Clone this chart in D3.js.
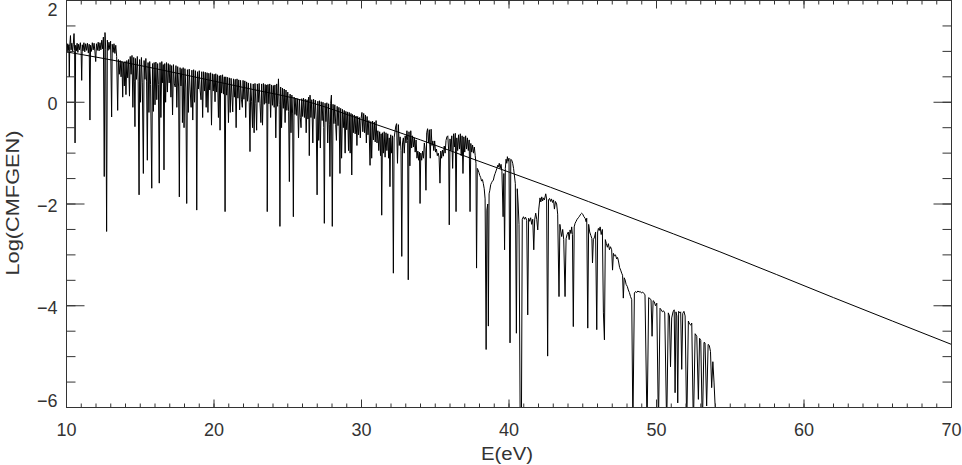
<!DOCTYPE html>
<html>
<head>
<meta charset="utf-8">
<script src="https://cdn.jsdelivr.net/npm/d3@7"></script>
<style>
  html, body { margin: 0; padding: 0; background: #fff; }
  svg { display: block; }
</style>
</head>
<body>
<div id="chart"></div>
<script>
// model continuum (smooth curve)
var modelE   = [10, 14, 18, 22, 26.5, 30, 34, 37.4, 42.8, 48, 54.3, 62, 70];
var modelLog = [0.99, 0.78, 0.54, 0.29, 0.0, -0.34, -0.74, -1.10, -1.67, -2.24, -2.94, -3.84, -4.76];

// CMFGEN spectrum, [E (eV), log flux], by energy range
var specA = [[10.00,1.12],[10.04,0.98],[10.08,1.15],[10.12,1.02],[10.16,1.13],[10.19,0.50],[10.22,1.10],[10.27,1.31],[10.31,1.03],[10.36,1.16],[10.41,0.99],[10.46,1.14],[10.51,1.35],[10.55,1.02],[10.58,-0.80],[10.62,1.12],[10.67,1.01],[10.72,1.16],[10.77,0.98],[10.82,1.14],[10.88,1.03],[10.94,1.17],[10.99,1.00],[11.03,0.43],[11.07,1.13],[11.12,1.01],[11.18,1.17],[11.24,0.99],[11.30,1.15],[11.36,1.02],[11.42,1.16],[11.48,0.97],[11.54,1.14],[11.59,-0.35],[11.63,1.12],[11.69,1.00],[11.75,1.17],[11.81,1.03],[11.87,1.16],[11.93,0.99],[11.98,0.80],[12.03,1.15],[12.09,1.02],[12.15,1.18],[12.21,1.01],[12.27,1.17],[12.33,1.03],[12.39,1.22],[12.45,1.05],[12.50,1.28],[12.56,-1.46],[12.61,1.37],[12.66,1.04],[12.72,-2.54],[12.77,1.22],[12.82,1.02],[12.88,1.18],[12.94,1.04],[12.99,1.20],[13.06,-0.29],[13.10,1.14],[13.16,0.98],[13.22,1.15],[13.28,0.96],[13.34,1.12],[13.40,0.90],[13.47,-0.16],[13.52,0.84]];

var specB = [[13.58,0.55],[13.64,0.82],[13.70,0.50],[13.76,0.80],[13.81,0.10],[13.86,0.78],[13.92,0.32],[13.97,0.80],[14.03,0.15],[14.09,0.82],[14.15,0.48],[14.21,0.84],[14.27,0.12],[14.32,0.90],[14.38,0.55],[14.44,0.92],[14.50,-0.10],[14.56,0.88],[14.60,0.40],[14.64,-0.48],[14.68,0.86],[14.74,0.45],[14.80,0.90],[14.86,0.40],[14.92,-1.82],[14.96,0.84],[15.02,0.00],[15.08,0.88],[15.14,0.38],[15.21,-1.40],[15.26,0.82],[15.32,0.45],[15.38,0.86],[15.43,0.40],[15.48,-1.14],[15.53,0.78],[15.59,-0.20],[15.64,0.80],[15.70,0.35],[15.78,-1.69],[15.83,0.76],[15.89,-0.18],[15.94,0.78],[16.00,-0.05],[16.06,0.79],[16.12,0.05],[16.18,0.76],[16.23,0.35],[16.29,-1.59],[16.34,0.78],[16.40,-0.30],[16.46,0.80],[16.52,0.38],[16.56,0.74],[16.61,-1.33],[16.66,0.76],[16.72,0.00],[16.78,0.78],[16.84,0.20],[16.90,0.76],[16.96,0.38],[17.02,0.74],[17.08,0.10],[17.13,0.72],[17.19,-0.25],[17.25,0.74],[17.31,0.36],[17.37,0.30],[17.42,0.72],[17.48,-0.10],[17.54,0.70],[17.60,0.30],[17.65,-1.86],[17.70,0.68],[17.76,0.32],[17.82,0.66],[17.86,-0.40],[17.91,0.68],[17.97,-0.50],[18.03,0.66],[18.09,0.28],[18.15,-1.99],[18.20,0.64],[18.26,-0.20],[18.32,0.65],[18.38,0.26],[18.45,-0.10],[18.50,0.63],[18.56,-0.35],[18.62,0.64],[18.68,0.00],[18.74,0.62],[18.79,0.24],[18.83,-2.12],[18.88,0.60],[18.94,0.26],[19.00,0.62],[19.06,0.24],[19.12,0.05],[19.17,0.60],[19.23,-0.30],[19.29,0.60],[19.35,0.22],[19.41,0.59],[19.47,-0.10],[19.53,0.58],[19.59,-0.20],[19.65,0.57],[19.71,0.24],[19.77,0.58],[19.83,-0.45],[19.89,0.56]];

var specC = [[19.95,0.22],[20.01,0.55],[20.07,0.01],[20.12,0.56],[20.18,0.20],[20.24,0.54],[20.30,-0.30],[20.36,0.52],[20.41,-0.55],[20.46,0.53],[20.52,0.18],[20.58,0.54],[20.64,0.16],[20.70,0.50],[20.75,-2.15],[20.80,0.50],[20.86,0.14],[20.92,0.49],[20.98,-0.40],[21.04,0.48],[21.10,-0.20],[21.16,0.47],[21.22,0.10],[21.27,-0.19],[21.32,0.46],[21.38,0.10],[21.44,0.45],[21.50,-0.50],[21.56,0.46],[21.62,0.08],[21.68,0.44],[21.74,-0.15],[21.80,0.43],[21.86,0.06],[21.92,-0.10],[21.97,0.43],[22.03,0.06],[22.09,0.42],[22.15,-0.30],[22.21,0.40],[22.27,0.02],[22.33,0.38],[22.39,0.00],[22.44,-0.97],[22.49,0.37],[22.55,0.02],[22.61,-0.50],[22.66,0.36],[22.72,-0.60],[22.78,0.37],[22.84,-0.02],[22.89,-0.55],[22.94,0.36],[23.00,0.00],[23.06,0.37],[23.12,-0.03],[23.18,-0.40],[23.23,0.36],[23.29,-0.45],[23.35,0.37],[23.41,-0.04],[23.47,0.35],[23.53,-0.02],[23.58,0.34],[23.61,-2.15],[23.66,0.35],[23.72,-0.03],[23.78,0.36],[23.84,-0.30],[23.90,0.34],[23.96,-0.06],[24.02,0.33],[24.08,-0.10],[24.13,0.34],[24.19,-0.70],[24.25,0.36],[24.31,-0.08],[24.37,0.46],[24.42,-0.04],[24.47,-2.44],[24.52,0.30],[24.58,-0.50],[24.64,0.28],[24.70,-0.12],[24.76,0.26],[24.82,-0.40],[24.88,0.24],[24.94,-0.16],[25.00,0.20],[25.06,-0.18],[25.11,-1.56],[25.16,0.16],[25.22,-0.60],[25.28,0.14],[25.33,-0.23],[25.38,-2.25],[25.43,0.10],[25.49,-0.24],[25.55,0.08],[25.61,-0.26],[25.67,0.07],[25.73,-0.70],[25.79,0.06],[25.85,-0.30],[25.90,-0.50],[25.95,0.07],[26.01,-0.28],[26.07,0.08],[26.13,-0.30],[26.19,0.06],[26.25,-0.60],[26.31,0.05],[26.37,-0.33],[26.42,0.10],[26.46,-1.05],[26.51,0.14],[26.57,-0.30],[26.63,0.05],[26.70,-0.80],[26.75,0.06],[26.81,-0.32],[26.87,0.04],[26.93,-0.33],[26.99,-1.82],[27.04,0.02],[27.10,-0.75],[27.15,0.03],[27.21,-0.90],[27.27,0.01],[27.33,-0.36],[27.39,0.00],[27.44,-0.50],[27.48,-2.38],[27.53,-0.02],[27.59,-0.38],[27.65,-0.01],[27.71,-0.80],[27.77,-0.03],[27.82,-0.43],[27.86,-1.46],[27.91,-0.02],[27.96,0.14],[28.02,-2.44],[28.07,-0.04],[28.13,-0.42],[28.19,-0.05],[28.25,-0.44],[28.30,-0.75],[28.35,-0.08],[28.41,-0.46],[28.47,-0.10],[28.54,-1.40],[28.59,-0.12],[28.65,-1.10],[28.71,-0.14],[28.77,-0.50],[28.83,-0.16],[28.89,-1.00],[28.94,-0.18],[29.00,-0.54],[29.06,-0.19],[29.12,-0.95],[29.17,-0.20],[29.23,-1.00],[29.29,-0.22],[29.34,-1.43],[29.39,-0.24],[29.45,-0.60],[29.51,-0.25],[29.57,-0.62],[29.63,-0.27],[29.69,-0.85],[29.74,-0.28],[29.80,-0.64],[29.86,-0.30],[29.92,-0.70],[29.97,-0.32]];

var specD = [[30.03,-0.20],[30.09,-0.58],[30.15,-0.22],[30.21,-0.60],[30.27,-0.25],[30.33,-0.80],[30.38,-0.28],[30.44,-0.64],[30.50,-0.36],[30.58,-1.24],[30.63,-0.38],[30.69,-1.10],[30.75,-0.37],[30.81,-0.74],[30.87,-0.39],[30.93,-0.78],[30.99,-0.36],[31.05,-0.80],[31.11,-0.56],[31.17,-0.95],[31.23,-0.58],[31.29,-1.05],[31.33,-0.62],[31.37,-2.22],[31.42,-0.60],[31.48,-1.00],[31.54,-0.58],[31.60,-1.08],[31.66,-0.60],[31.72,-0.95],[31.78,-0.62],[31.84,-1.10],[31.88,-0.70],[31.93,-1.66],[31.98,-0.64],[32.04,-1.00],[32.10,-0.66],[32.16,-3.36],[32.21,-0.70],[32.27,-0.58],[32.33,-0.46],[32.38,-0.42],[32.44,-1.20],[32.50,-0.44],[32.56,-0.85],[32.62,-0.68],[32.68,-0.95],[32.73,-3.03],[32.78,-0.80],[32.84,-0.70],[32.90,-1.00],[32.96,-0.66],[33.02,-0.80],[33.08,-0.56],[33.13,-0.75],[33.17,-3.49],[33.22,-0.58],[33.28,-1.25],[33.34,-0.56],[33.40,-0.90],[33.46,-0.66],[33.52,-0.88],[33.58,-0.70],[33.64,-0.98],[33.70,-0.74],[33.76,-1.10],[33.82,-0.96],[33.88,-1.14],[33.93,-0.98],[33.97,-1.99],[34.02,-1.00],[34.08,-1.14],[34.14,-0.96],[34.20,-1.10],[34.26,-0.80],[34.31,-0.92],[34.37,-1.73],[34.42,-0.60],[34.48,-0.52],[34.54,-0.80],[34.60,-0.54],[34.66,-1.10],[34.72,-0.53],[34.78,-0.85],[34.84,-0.76],[34.90,-0.95],[34.96,-0.76],[35.02,-0.98],[35.08,-0.92],[35.14,-1.05],[35.20,-1.00],[35.26,-1.08],[35.32,-1.59],[35.37,-0.96],[35.43,-1.10],[35.49,-0.94],[35.55,-1.06],[35.61,-0.86],[35.67,-1.00],[35.73,-0.75],[35.79,-0.68],[35.85,-0.66],[35.91,-0.95],[35.95,-2.41],[36.00,-0.72],[36.06,-0.95],[36.12,-0.66],[36.18,-1.30],[36.24,-0.62],[36.30,-0.88],[36.36,-0.61],[36.41,-2.15],[36.46,-0.70],[36.52,-0.95],[36.58,-0.64],[36.64,-0.92],[36.70,-0.62],[36.76,-1.05],[36.82,-0.66],[36.88,-1.40],[36.94,-0.68],[37.00,-0.98],[37.06,-0.66],[37.12,-0.92],[37.18,-0.70],[37.24,-0.95],[37.30,-0.74],[37.36,-2.15],[37.41,-0.81],[37.47,-0.98],[37.53,-0.84],[37.59,-1.00],[37.65,-0.88],[37.71,-1.05],[37.76,-1.20],[37.80,-3.26],[37.85,-1.30],[37.90,-1.33],[37.96,-1.38],[38.02,-1.44],[38.08,-1.48],[38.14,-1.55],[38.20,-1.52],[38.26,-1.60],[38.32,-1.70],[38.38,-1.90],[38.45,-4.86],[38.50,-2.12],[38.56,-2.00],[38.60,-4.40],[38.65,-1.80],[38.70,-1.73],[38.76,-1.62],[38.82,-1.58],[38.88,-1.55],[38.94,-1.53],[39.00,-1.45],[39.06,-1.40],[39.12,-1.35],[39.18,-1.30],[39.23,-1.24],[39.28,-1.27],[39.34,-1.20],[39.40,-1.30],[39.46,-1.22],[39.52,-1.36],[39.60,-2.25],[39.65,-1.40],[39.70,-2.90],[39.75,-1.30],[39.80,-1.12],[39.85,-1.20],[39.89,-1.07],[39.94,-1.16],[40.00,-1.10],[40.07,-4.73],[40.12,-1.12],[40.19,-1.14],[40.25,-1.20],[40.31,-1.30],[40.37,-1.45],[40.43,-1.60],[40.50,-4.54],[40.56,-1.70],[40.62,-2.00],[40.68,-2.40],[40.76,-6.40],[40.84,-6.40],[40.90,-2.30]];

var specE = [[40.98,-2.25],[41.05,-2.30],[41.12,-2.26],[41.20,-2.32],[41.27,-4.18],[41.33,-2.28],[41.40,-2.34],[41.47,-2.27],[41.54,-2.40],[41.61,-2.30],[41.68,-2.90],[41.74,-2.31],[41.81,-2.18],[41.88,-2.30],[41.95,-2.51],[42.02,-2.10],[42.10,-1.88],[42.16,-1.96],[42.22,-1.86],[42.28,-1.94],[42.34,-1.88],[42.40,-1.92],[42.49,-1.80],[42.55,-1.90],[42.62,-4.99],[42.68,-1.92],[42.75,-1.89],[42.82,-1.95],[42.88,-1.90],[42.95,-1.97],[43.02,-1.92],[43.08,-2.10],[43.15,-1.95],[43.23,-2.00],[43.30,-2.20],[43.39,-3.82],[43.45,-2.40],[43.52,-2.55],[43.57,-2.64],[43.64,-2.50],[43.71,-2.70],[43.80,-3.82],[43.87,-2.68],[43.94,-2.60],[44.02,-2.55],[44.08,-2.70],[44.14,-2.51],[44.20,-2.58],[44.25,-2.45],[44.30,-2.60],[44.36,-4.41],[44.42,-2.45],[44.48,-2.38],[44.55,-2.34],[44.62,-2.30],[44.70,-2.27],[44.78,-2.24],[44.86,-2.20],[44.93,-2.18],[45.00,-2.20],[45.08,-2.25],[45.16,-2.28],[45.23,-2.35],[45.27,-2.28],[45.34,-4.44],[45.40,-2.40],[45.47,-2.55],[45.55,-2.62],[45.62,-2.68],[45.66,-3.16],[45.72,-2.70],[45.80,-2.65],[45.87,-2.55],[45.95,-4.47],[46.01,-2.55],[46.06,-2.48],[46.12,-2.52],[46.18,-2.45],[46.25,-2.60],[46.33,-2.50],[46.40,-4.14],[46.47,-4.67],[46.53,-2.70],[46.60,-2.78],[46.67,-2.85],[46.74,-2.78],[46.81,-2.90],[46.88,-2.84],[46.96,-2.90],[47.02,-3.30],[47.08,-2.97],[47.15,-3.02],[47.22,-3.00],[47.30,-3.08],[47.36,-3.05],[47.42,-3.12],[47.50,-3.25],[47.57,-3.30],[47.64,-3.36],[47.70,-3.40],[47.75,-3.85],[47.81,-3.45],[47.87,-3.49],[47.94,-3.58],[48.02,-3.62],[48.09,-3.69],[48.16,-3.74],[48.24,-3.82],[48.32,-3.88],[48.40,-6.40],[48.50,-3.75],[48.58,-3.72],[48.66,-3.74],[48.74,-3.71],[48.82,-3.73],[48.90,-3.72],[48.98,-3.75],[49.06,-3.73],[49.14,-3.76],[49.22,-3.78],[49.36,-6.40],[49.47,-3.84],[49.55,-3.86],[49.63,-3.88],[49.70,-4.60],[49.77,-3.90],[49.85,-3.92],[49.93,-4.00],[50.02,-3.95],[50.13,-6.40],[50.24,-4.05],[50.32,-4.08],[50.40,-4.12],[50.48,-4.10],[50.56,-4.14],[50.69,-6.40],[50.80,-4.14],[50.88,-4.20],[50.95,-5.20],[51.03,-4.24],[51.12,-4.12],[51.20,-4.08],[51.26,-5.71],[51.32,-4.12],[51.38,-4.20],[51.44,-5.91],[51.50,-4.11],[51.58,-4.14],[51.64,-4.12],[51.71,-5.25],[51.78,-4.15],[51.86,-4.11],[51.94,-4.20],[52.05,-6.40],[52.16,-4.30],[52.24,-4.36],[52.32,-4.38],[52.39,-4.34],[52.50,-6.40],[52.62,-4.55],[52.73,-4.60],[52.84,-5.84],[52.92,-4.64],[53.00,-4.68],[53.11,-6.40],[53.22,-4.72],[53.29,-4.73],[53.40,-5.97],[53.50,-4.76],[53.58,-4.78],[53.66,-4.90],[53.74,-5.61],[53.82,-5.10],[53.90,-5.50],[53.97,-5.94],[54.05,-6.40]];

var xMajor = [10, 20, 30, 40, 50, 60, 70];
var yMajor = [-6, -4, -2, 0, 2];

var width = 962, height = 465;
var plotLeft = 66.5, plotRight = 951.5, plotTop = 0.5, plotBottom = 407.5;

var svg = d3.select("#chart").append("svg")
    .attr("width", width)
    .attr("height", height)
    .style("background", "#fff");

var x = d3.scaleLinear().domain([10, 70]).range([plotLeft, plotRight]);
var y = d3.scaleLinear().domain([-6, 2]).range([plotBottom, plotTop]);

svg.append("clipPath").attr("id", "plotclip")
  .append("rect")
    .attr("x", plotLeft).attr("y", plotTop)
    .attr("width", plotRight - plotLeft).attr("height", plotBottom - plotTop);

var spectrum = specA.concat(specB, specC, specD, specE);
var model = modelE.map(function(e, i) { return [e, modelLog[i]]; });

var line = d3.line()
    .x(function(d) { return x(d[0]); })
    .y(function(d) { return y(d[1]); });

var plot = svg.append("g").attr("clip-path", "url(#plotclip)");

plot.append("path")
    .datum(spectrum)
    .attr("fill", "none")
    .attr("stroke", "#000")
    .attr("stroke-width", 1)
    .attr("d", line);

plot.append("path")
    .datum(model)
    .attr("fill", "none")
    .attr("stroke", "#000")
    .attr("stroke-width", 1)
    .attr("d", line.curve(d3.curveMonotoneX));

// frame
svg.append("rect")
    .attr("x", plotLeft).attr("y", plotTop)
    .attr("width", plotRight - plotLeft).attr("height", plotBottom - plotTop)
    .attr("fill", "none")
    .attr("stroke", "#333")
    .attr("stroke-width", 1);

// ticks on all four sides, pointing inward
function ticks(axis, scale, values, size, tx, ty) {
  svg.append("g")
      .attr("transform", "translate(" + tx + "," + ty + ")")
      .call(axis(scale).tickValues(values).tickSize(size).tickFormat("").offset(0))
      .call(function(g) { g.select(".domain").remove(); })
      .selectAll("line").attr("stroke", "#333");
}

var xMinor = x.ticks(60), yMinor = y.ticks(16);
ticks(d3.axisBottom, x, xMinor, -4, 0, plotBottom);
ticks(d3.axisBottom, x, xMajor, -8, 0, plotBottom);
ticks(d3.axisTop, x, xMinor, -4, 0, plotTop);
ticks(d3.axisTop, x, xMajor, -8, 0, plotTop);
ticks(d3.axisLeft, y, yMinor, -9, plotLeft, 0);
ticks(d3.axisLeft, y, yMajor, -18, plotLeft, 0);
ticks(d3.axisRight, y, yMinor, -9, plotRight, 0);
ticks(d3.axisRight, y, yMajor, -18, plotRight, 0);

// tick labels
var font = "'Liberation Sans', Arial, sans-serif";

svg.append("g")
    .attr("transform", "translate(0," + plotBottom + ")")
    .call(d3.axisBottom(x).tickValues(xMajor).tickSize(0).tickPadding(16).offset(0).tickFormat(d3.format("d")))
    .call(function(g) {
      g.select(".domain").remove();
      g.selectAll("text").attr("font-family", font).attr("font-size", 18).attr("fill", "#333");
    });

svg.append("g")
    .attr("transform", "translate(" + plotLeft + ",0)")
    .call(d3.axisLeft(y).tickValues(yMajor).tickSize(0).tickPadding(9).offset(0).tickFormat(d3.format("d")))
    .call(function(g) {
      g.select(".domain").remove();
      g.selectAll("text")
          .attr("font-family", font).attr("font-size", 18).attr("fill", "#333")
          .attr("y", function(d) { return d === 2 ? 10 : d === -6 ? -6 : 2; });
    });

// axis titles
svg.append("text")
    .attr("x", 507).attr("y", 460)
    .attr("text-anchor", "middle")
    .attr("font-family", font).attr("font-size", 18).attr("fill", "#333")
    .attr("textLength", 52).attr("lengthAdjust", "spacingAndGlyphs")
    .text("E(eV)");

svg.append("text")
    .attr("transform", "translate(19,203) rotate(-90)")
    .attr("text-anchor", "middle")
    .attr("font-family", font).attr("font-size", 18).attr("fill", "#333")
    .attr("textLength", 145).attr("lengthAdjust", "spacingAndGlyphs")
    .text("Log(CMFGEN)");
</script>
</body>
</html>
